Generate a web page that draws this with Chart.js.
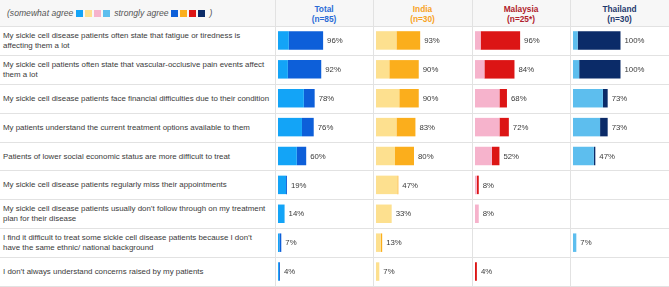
<!DOCTYPE html>
<html>
<head>
<meta charset="utf-8">
<script src="https://cdn.jsdelivr.net/npm/chart.js@4.4.1/dist/chart.umd.min.js"></script>
<style>
    body { margin: 0; background: #ffffff; font-family: 'Liberation Sans', Arial, sans-serif; }
    #wrap { position: relative; width: 669px; height: 287px; overflow: hidden; }
    #header-bg { position: absolute; left: 0; top: 0; width: 669px; height: 26px; background: #f7f7f7; }
    .hline { position: absolute; left: 0; width: 669px; height: 1px; background: #e2e2e2; }
    .vline { position: absolute; top: 0; width: 1px; height: 287px; background: #e2e2e2; }
    .statement { position: absolute; left: 3px; width: 270px; display: flex; align-items: center;
        font-size: 7.9px; line-height: 10px; color: #3a3a3a; white-space: nowrap; }
    .panel-title { position: absolute; top: 4px; text-align: center; font-size: 8.3px; font-weight: bold; line-height: 10px; }
    .panel { position: absolute; top: 26px; }
    #legend { position: absolute; left: 7px; top: 8px; font-size: 8.6px; font-style: italic; color: #555555; white-space: nowrap; }
    #legend .sq { display: inline-block; width: 7px; height: 7px; margin-right: 2px; vertical-align: -0.5px; }
</style>
</head>
<body>
<div id="wrap">
    <div id="header-bg"></div>
    <div id="legend"></div>
</div>
<script>
const statements = [
    ['My sickle cell disease patients often state that fatigue or tiredness is', 'affecting them a lot'],
    ['My sickle cell patients often state that vascular-occlusive  pain events affect', 'them a lot'],
    ['My sickle cell disease patients face financial difficulties due to their condition'],
    ['My patients understand  the current  treatment options available to them'],
    ['Patients of lower social economic status are more difficult to treat'],
    ['My sickle cell disease patients regularly  miss their appointments'],
    ['My sickle cell disease patients usually don\u2019t follow through on my treatment', 'plan for their disease'],
    ['I find it difficult to treat some sickle cell disease patients because I don\u2019t', 'have the same ethnic/ national background'],
    ['I don\u2019t always understand  concerns raised by my patients'],
];

const panelNames = ['Total', 'India', 'Malaysia', 'Thailand'];
const panelSizes = ['(n=85)', '(n=30)', '(n=25*)', '(n=30)'];

// percent of respondents, per statement
const totalSomewhat = [23, 21, 55, 51, 40, 17, 14, 3, 2];
const totalStrongly = [73, 71, 23, 25, 20, 2, 0, 4, 2];
const indiaSomewhat = [43, 28, 49, 43, 40, 45, 33, 10, 7];
const indiaStrongly = [50, 62, 41, 40, 40, 2, 0, 3, 0];
const malaysiaSomewhat = [12, 20, 52, 52, 36, 4, 8, 0, 0];
const malaysiaStrongly = [84, 64, 16, 20, 16, 4, 0, 0, 4];
const thailandSomewhat = [10, 13, 63, 57, 44, 0, 0, 7, 0];
const thailandStrongly = [90, 87, 10, 16, 3, 0, 0, 0, 0];

const somewhatColors = ['#13a4f7', '#fde08f', '#f6b3cc', '#5dbeee'];
const stronglyColors = ['#0d5fd9', '#fbae1c', '#dc1515', '#0b2b68'];
const titleColors = ['#2a6bd6', '#f7a21e', '#b0222b', '#1f3a6e'];

const somewhatData = [totalSomewhat, indiaSomewhat, malaysiaSomewhat, thailandSomewhat];
const stronglyData = [totalStrongly, indiaStrongly, malaysiaStrongly, thailandStrongly];

const wrap = document.getElementById('wrap');
const rowTop = 26;
const rowHeight = 260 / statements.length;
const panelLines = [275, 373, 472, 570, 669];

// grid
for (let i = 0; i <= statements.length; i++) {
    const line = document.createElement('div');
    line.className = 'hline';
    line.style.top = Math.round(rowTop + i * rowHeight) + 'px';
    wrap.appendChild(line);
}
panelLines.slice(0, 4).forEach(x => {
    const line = document.createElement('div');
    line.className = 'vline';
    line.style.left = x + 'px';
    wrap.appendChild(line);
});

// legend
const legend = document.getElementById('legend');
const squares = colors => colors.map(c => `<span class="sq" style="background:${c}"></span>`).join('');
legend.innerHTML = `(somewhat agree ${squares(somewhatColors)} strongly agree ${squares(stronglyColors)} )`;

// statements
statements.forEach((lines, i) => {
    const div = document.createElement('div');
    div.className = 'statement';
    div.style.top = Math.round(rowTop + i * rowHeight) + 'px';
    div.style.height = Math.round(rowHeight) + 'px';
    div.innerHTML = lines.join('<br>');
    wrap.appendChild(div);
});

// value labels at end of each stacked bar
const endLabels = {
    id: 'endLabels',
    afterDatasetsDraw(chart) {
        const ctx = chart.ctx;
        const last = chart.getDatasetMeta(chart.data.datasets.length - 1);
        ctx.save();
        ctx.font = '7.8px "Liberation Sans", Arial, sans-serif';
        ctx.fillStyle = '#3a3a3a';
        ctx.textBaseline = 'middle';
        last.data.forEach((bar, i) => {
            const total = chart.data.datasets.reduce((sum, ds) => sum + ds.data[i], 0);
            if (total <= 0) return;
            ctx.fillText(Math.round(total) + '%', bar.x + 4, bar.y + 0.5);
        });
        ctx.restore();
    }
};

const renderPanel = (index) => {
    const left = panelLines[index];
    const width = panelLines[index + 1] - left;

    const title = document.createElement('div');
    title.className = 'panel-title';
    title.style.left = left + 'px';
    title.style.width = width + 'px';
    title.style.color = titleColors[index];
    title.innerHTML = `${panelNames[index]}<br>${panelSizes[index]}`;
    wrap.appendChild(title);

    const holder = document.createElement('div');
    holder.className = 'panel';
    holder.style.left = (left + 2) + 'px';
    holder.style.width = (width - 3) + 'px';
    holder.style.height = '260px';
    const canvas = document.createElement('canvas');
    holder.appendChild(canvas);
    wrap.appendChild(holder);

    return new Chart(canvas.getContext('2d'), {
        type: 'bar',
        data: {
            labels: statements.map(s => s.join(' ')),
            datasets: [
                {
                    label: 'somewhat agree',
                    data: somewhatData[index],
                    backgroundColor: somewhatColors[index],
                    barPercentage: 0.64,
                    categoryPercentage: 1,
                },
                {
                    label: 'strongly agree',
                    data: stronglyData[index],
                    backgroundColor: stronglyColors[index],
                    barPercentage: 0.64,
                    categoryPercentage: 1,
                }
            ]
        },
        options: {
            responsive: true,
            maintainAspectRatio: false,
            animation: false,
            indexAxis: 'y',
            layout: { padding: { left: 1, right: 0, top: 0, bottom: 0 } },
            scales: {
                x: { stacked: true, min: 0, max: 200, display: false },
                y: { stacked: true, display: false }
            },
            plugins: {
                legend: { display: false },
                tooltip: { enabled: false }
            }
        },
        plugins: [endLabels]
    });
};

panelNames.forEach((name, i) => renderPanel(i));
</script>
</body>
</html>
